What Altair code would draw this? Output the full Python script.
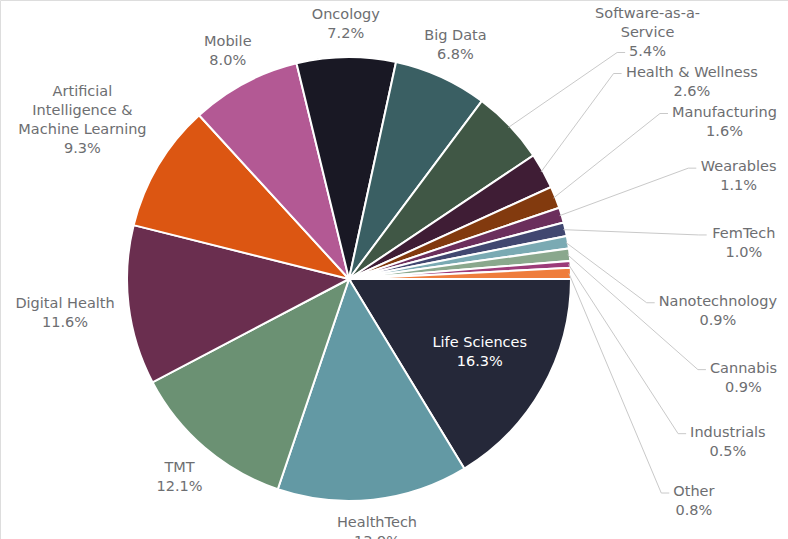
import math
import altair as alt
import pandas as pd

# ---------------- data ----------------
categories = [
    "Life Sciences", "HealthTech", "TMT", "Digital Health",
    "Artificial Intelligence & Machine Learning", "Mobile", "Oncology",
    "Big Data", "Software-as-a-Service", "Health & Wellness", "Manufacturing",
    "Wearables", "FemTech", "Nanotechnology", "Cannabis", "Industrials", "Other",
]
shares = [16.3, 13.9, 12.1, 11.6, 9.3, 8.0, 7.2, 6.8, 5.4, 2.6, 1.6, 1.1, 1.0,
          0.9, 0.9, 0.5, 0.8]
display_names = [
    "Life Sciences", "HealthTech", "TMT", "Digital Health",
    "Artificial\nIntelligence &\nMachine Learning", "Mobile", "Oncology",
    "Big Data", "Software-as-a-\nService", "Health & Wellness", "Manufacturing",
    "Wearables", "FemTech", "Nanotechnology", "Cannabis", "Industrials", "Other",
]
colors = ["#252839", "#6399a4", "#6b9173", "#6a2e4f", "#dc5612", "#b35994",
          "#191824", "#3a5f63", "#405745", "#3f1d35", "#823a0e", "#6b2f5c",
          "#414770", "#7aaab3", "#8aa88d", "#9c3b79", "#ef7d3c"]

# ---------------- layout ----------------
CX, CY, R = 349, 279, 222
FONT = "DejaVu Sans"
FS = 14.5
LH = 19
TEXT_COL = "#6d6e71"
RIGHT_EDGE = 777
N_BIG = 8  # slices labelled next to the pie; the rest use the right column

_lw = dict(zip("abcdefghijklmnopqrstuvwxyz",
               [.613, .635, .550, .635, .615, .352, .635, .634, .278, .278, .579,
                .278, .974, .634, .612, .635, .635, .411, .521, .392, .634, .592,
                .818, .592, .592, .525]))
_uw = dict(zip("ABCDEFGHIJKLMNOPQRSTUVWXYZ",
               [.684, .686, .698, .770, .632, .575, .775, .752, .295, .295, .656,
                .557, .863, .748, .787, .603, .787, .695, .635, .611, .732, .684,
                .989, .685, .611, .685]))


def text_w(s):
    w = 0.0
    for ch in s:
        if ch in _lw:
            w += _lw[ch]
        elif ch in _uw:
            w += _uw[ch]
        elif ch.isdigit():
            w += 0.636
        elif ch == "%":
            w += 0.95
        elif ch == "&":
            w += 0.78
        elif ch == "-":
            w += 0.361
        else:
            w += 0.318
    return w * FS


rows = []
cum = 0.0
total = sum(shares)
for i, (c, v, dn) in enumerate(zip(categories, shares, display_names)):
    mid = (cum + v / 2) / total * 2 * math.pi  # clockwise from 3 o'clock
    cum += v
    lines = dn.split("\n") + [f"{v:.1f}%"]
    rows.append(dict(idx=i, cat=c, share=v, lines=lines, mid=mid))

text_rows, leader_rows = [], []
n_small = len(rows) - N_BIG
a0, a1 = math.radians(-44), math.radians(33.8)
prev_bottom = -1e9
for r in rows:
    lines = r["lines"]
    n = len(lines)
    h = n * LH
    w = max(text_w(s) for s in lines)
    phi = r["mid"]
    if r["idx"] == 0:
        rr = 150
        x, y = CX + rr * math.cos(phi), CY + rr * math.sin(phi)
        col = "white"
    elif r["idx"] < N_BIG:
        c, s = abs(math.cos(phi)), abs(math.sin(phi))
        ext = min((w / 2) / c if c > 1e-6 else 1e9, (h / 2) / s if s > 1e-6 else 1e9)
        rr = R + 14 + ext
        x, y = CX + rr * math.cos(phi), CY + rr * math.sin(phi)
        col = TEXT_COL
    else:
        k = r["idx"] - N_BIG
        ang = a0 + (a1 - a0) * k / (n_small - 1)
        x = min(CX + 415 * math.cos(ang), RIGHT_EDGE - w / 2)
        y = max(CY + 400 * math.sin(ang), 4 + h / 2, prev_bottom + 2 + h / 2)
        prev_bottom = y + h / 2
        col = TEXT_COL
        # leader line to the left side of one label line
        li = n - 1 if n >= 3 else 0
        ly = y - (n - 1) / 2 * LH + li * LH + 1
        lx = x - text_w(lines[li]) / 2 - 4
        px, py = CX + (R - 2) * math.cos(phi), CY + (R - 2) * math.sin(phi)
        leader_rows += [
            dict(cat=r["cat"], o=0, x=px, y=py),
            dict(cat=r["cat"], o=1, x=lx - 8, y=ly),
            dict(cat=r["cat"], o=2, x=lx, y=ly),
        ]
    # Vega puts the first line at y: shift so the block is centred on y
    y_first = y - (n - 1) / 2 * LH
    text_rows.append(dict(cat=r["cat"], txt="\n".join(lines), x=x, y=y_first, col=col))

pie_df = pd.DataFrame({"cat": categories, "share": shares, "idx": range(len(shares))})
text_df = pd.DataFrame(text_rows)
leader_df = pd.DataFrame(leader_rows)

pie = alt.Chart(pie_df).mark_arc(
    outerRadius=R, stroke="white", strokeWidth=2
).encode(
    theta=alt.Theta("share:Q", stack=True,
                    scale=alt.Scale(domain=[0, total],
                                    range=[math.pi / 2, math.pi / 2 + 2 * math.pi])),
    order=alt.Order("idx:Q", sort="ascending"),
    color=alt.Color("cat:N", scale=alt.Scale(domain=categories, range=colors),
                    legend=None),
    x=alt.value(CX),
    y=alt.value(CY),
)

leaders = alt.Chart(leader_df).mark_line(
    color="#c9c9c9", strokeWidth=1
).encode(
    x=alt.X("x:Q", scale=None, axis=None),
    y=alt.Y("y:Q", scale=None, axis=None),
    detail="cat:N",
    order="o:Q",
)

labels = alt.Chart(text_df).mark_text(
    font=FONT, fontSize=FS, lineBreak="\n", lineHeight=LH,
    align="center", baseline="middle",
).encode(
    x=alt.X("x:Q", scale=None, axis=None),
    y=alt.Y("y:Q", scale=None, axis=None),
    text="txt:N",
    color=alt.Color("col:N", scale=None, legend=None),
)

chart = alt.layer(pie, leaders, labels).properties(
    width=788, height=539, padding=0,
    autosize=alt.AutoSizeParams(type="none"),
).configure_view(stroke=None).configure(background="white")

chart.save("out.html", embed_options={"renderer": "svg", "actions": False})
